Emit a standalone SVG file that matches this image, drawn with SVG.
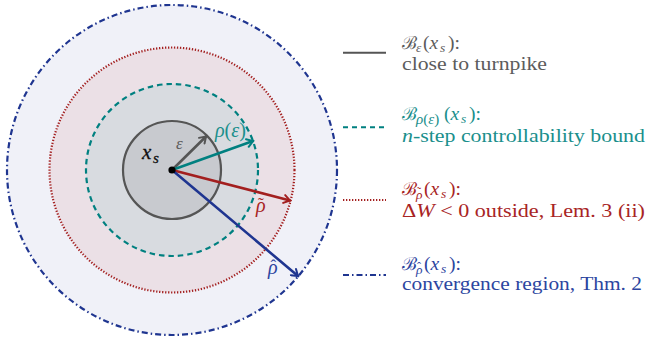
<svg xmlns="http://www.w3.org/2000/svg" width="650" height="345" viewBox="0 0 650 345">
<style>
.t{font-family:"Liberation Serif","Times New Roman",serif;font-size:19.5px}
.m{font-family:"Liberation Serif","Times New Roman",serif;font-style:italic}
.sub{font-size:13.5px}
.cal{font-family:"DejaVu Serif","Liberation Serif",serif;font-size:18px}
.gray{fill:#5c5c5c}.teal{fill:#1a8f8c}.red{fill:#a82424}.blue{fill:#2c45a0}
.ar{fill:none;stroke-width:2.6;stroke-linecap:round}
</style>
<defs>
<marker id="mg" viewBox="0 0 10 10" refX="8" refY="5" markerWidth="10" markerHeight="10" markerUnits="userSpaceOnUse" orient="auto"><path d="M2,1 L8,5 L2,9" fill="none" stroke="#555" stroke-width="2" stroke-linecap="round"/></marker>
<marker id="mt" viewBox="0 0 10 10" refX="8" refY="5" markerWidth="10" markerHeight="10" markerUnits="userSpaceOnUse" orient="auto"><path d="M2,1 L8,5 L2,9" fill="none" stroke="#008080" stroke-width="2" stroke-linecap="round"/></marker>
<marker id="mr" viewBox="0 0 10 10" refX="8" refY="5" markerWidth="10" markerHeight="10" markerUnits="userSpaceOnUse" orient="auto"><path d="M2,1 L8,5 L2,9" fill="none" stroke="#a31f1f" stroke-width="2" stroke-linecap="round"/></marker>
<marker id="mb" viewBox="0 0 10 10" refX="8" refY="5" markerWidth="10" markerHeight="10" markerUnits="userSpaceOnUse" orient="auto"><path d="M2,1 L8,5 L2,9" fill="none" stroke="#1f3590" stroke-width="2" stroke-linecap="round"/></marker>
</defs>
<g id="ball-hat">
<circle cx="172" cy="170" r="165" fill="#f0f1f8" stroke="#1f3590" stroke-width="2.2" stroke-dasharray="6 3 1.5 3"/>
</g>
<g id="ball-tilde">
<circle cx="172" cy="170" r="122.5" fill="#ebe0e6" stroke="#a31f1f" stroke-width="2.2" stroke-dasharray="1.3 1.7"/>
</g>
<g id="ball-rho">
<circle cx="172" cy="170" r="86" fill="#d8dbe0" stroke="#008080" stroke-width="2.2" stroke-dasharray="5.5 4"/>
</g>
<g id="ball-eps">
<circle cx="172" cy="170" r="49" fill="#c8cacf" stroke="#555" stroke-width="2.2"/>
</g>
<g id="connectors">
<line class="ar" x1="172" y1="170" x2="206" y2="136.5" stroke="#555" marker-end="url(#mg)"/>
<line class="ar" x1="172" y1="170" x2="253" y2="141" stroke="#008080" marker-end="url(#mt)"/>
<line class="ar" x1="172" y1="170" x2="290" y2="200.5" stroke="#a31f1f" marker-end="url(#mr)"/>
<line class="ar" x1="172" y1="170" x2="298" y2="276" stroke="#1f3590" marker-end="url(#mb)"/>
</g>
<g id="center">
<circle cx="172" cy="170" r="3.6" fill="#000"/>
<text class="m" font-size="21" fill="#111" stroke="#111" stroke-width="0.3"><tspan x="142" y="159">x</tspan><tspan x="153" y="163" font-size="15">s</tspan></text>
<text class="m gray" x="176" y="149" font-size="17">ε</text>
<text class="m teal" x="215" y="137" font-size="20">ρ<tspan font-style="normal">(</tspan>ε<tspan font-style="normal">)</tspan></text>
<text class="m red" font-size="20"><tspan x="256" y="212">ρ</tspan><tspan x="258" y="209" font-size="17" font-style="normal">˜</tspan></text>
<text class="m blue" font-size="20"><tspan x="268" y="274">ρ</tspan><tspan x="270.5" y="271" font-size="17" font-style="normal">ˆ</tspan></text>
</g>
<g id="legend-eps">
<line x1="343" y1="52.7" x2="386" y2="52.7" stroke="#555" stroke-width="2"/>
<text class="t gray"><tspan class="cal" x="402" y="49">ℬ</tspan><tspan class="m sub" x="416" y="52">ε</tspan><tspan x="423" y="49">(</tspan><tspan class="m" x="429.5" y="49">x</tspan><tspan class="m sub" x="440" y="52">s</tspan><tspan x="448" y="49">):</tspan></text>
<text class="t gray" x="402" y="70" textLength="145" lengthAdjust="spacingAndGlyphs">close to turnpike</text>
</g>
<g id="legend-rho">
<line x1="343" y1="127.3" x2="386" y2="127.3" stroke="#008080" stroke-width="2" stroke-dasharray="5 4"/>
<text class="t teal"><tspan class="cal" x="402" y="120">ℬ</tspan><tspan font-size="15" x="416" y="124"><tspan class="m">ρ</tspan>(<tspan class="m">ε</tspan>)</tspan><tspan x="444" y="120">(</tspan><tspan class="m" x="450.5" y="120">x</tspan><tspan class="m sub" x="461" y="123">s</tspan><tspan x="469" y="120">):</tspan></text>
<text class="t teal" x="402" y="142" textLength="243" lengthAdjust="spacingAndGlyphs"><tspan class="m">n</tspan>-step controllability bound</text>
</g>
<g id="legend-tilde">
<line x1="343" y1="200" x2="386" y2="200" stroke="#a31f1f" stroke-width="2" stroke-dasharray="1.3 1.7"/>
<text class="t red"><tspan class="cal" x="402" y="195">ℬ</tspan><tspan class="m sub" x="416" y="199">ρ</tspan><tspan x="417" y="196" font-size="12">˜</tspan><tspan x="424" y="195">(</tspan><tspan class="m" x="430.5" y="195">x</tspan><tspan class="m sub" x="441" y="198">s</tspan><tspan x="449" y="195">):</tspan></text>
<text class="t red" x="402" y="217" textLength="243" lengthAdjust="spacingAndGlyphs">Δ<tspan class="m">W</tspan> &lt; 0 outside, Lem. 3 (ii)</text>
</g>
<g id="legend-hat">
<line x1="343" y1="275" x2="386" y2="275" stroke="#1f3590" stroke-width="2" stroke-dasharray="6 3 1.5 3"/>
<text class="t blue"><tspan class="cal" x="402" y="270">ℬ</tspan><tspan class="m sub" x="416" y="274">ρ</tspan><tspan x="417" y="271" font-size="12">ˆ</tspan><tspan x="424" y="270">(</tspan><tspan class="m" x="430.5" y="270">x</tspan><tspan class="m sub" x="441" y="273">s</tspan><tspan x="449" y="270">):</tspan></text>
<text class="t blue" x="402" y="290" textLength="240" lengthAdjust="spacingAndGlyphs">convergence region, Thm. 2</text>
</g>
</svg>
